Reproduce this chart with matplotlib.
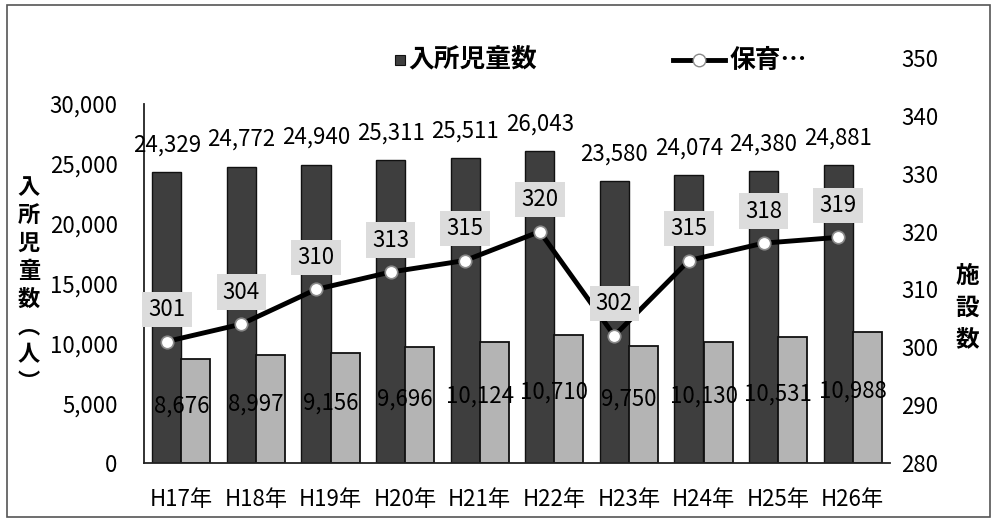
import matplotlib
matplotlib.use('Agg')
import matplotlib.pyplot as plt
from matplotlib.patches import Rectangle
from matplotlib.lines import Line2D
import numpy as np

# ---- data ----
years = ['H17年', 'H18年', 'H19年', 'H20年', 'H21年', 'H22年', 'H23年', 'H24年', 'H25年', 'H26年']
children = [24329, 24772, 24940, 25311, 25511, 26043, 23580, 24074, 24380, 24881]
second_series = [8676, 8997, 9156, 9696, 10124, 10710, 9750, 10130, 10531, 10988]
facilities = [301, 304, 310, 313, 315, 320, 302, 315, 318, 319]
left_ticks = [0, 5000, 10000, 15000, 20000, 25000, 30000]
right_ticks = [280, 290, 300, 310, 320, 330, 340, 350]
legend_bar = '入所児童数'
legend_line = '保育…'
left_label = '入所児童数︵人︶'
right_label = '施設数'

plt.rcParams['font.family'] = ['Noto Sans CJK JP', 'DejaVu Sans']

W, H = 994, 528
fig = plt.figure(figsize=(W / 100, H / 100), dpi=100)
fig.patch.set_facecolor('white')

ax = fig.add_axes([144 / W, (H - 463) / H, 746 / W, 405 / H])
x = np.arange(len(years))
w = 0.39
dark = '#3e3e3e'
light = '#b4b4b4'
fs = 16
ax.bar(x - w / 2, children, w, color=dark, edgecolor='#111111', linewidth=1.0, zorder=2)
ax.bar(x + w / 2, second_series, w, color=light, edgecolor='#111111', linewidth=1.3, zorder=2)
ax.set_xlim(-0.5, len(years) - 0.5)
ax.set_ylim(0, 30000 * 405 / 359)
ax.set_yticks(left_ticks)
ax.set_yticklabels([f'{v:,}' for v in left_ticks])
ax.set_xticks(x)
ax.set_xticklabels(years)
ax.tick_params(axis='y', length=0, pad=19, labelsize=fs)
ax.tick_params(axis='x', length=0, pad=18, labelsize=fs)
for s in ['top', 'right']:
    ax.spines[s].set_visible(False)
ax.spines['left'].set_bounds(0, 30000)
ax.spines['left'].set_linewidth(1.3)
ax.spines['left'].set_color('#222222')
ax.spines['bottom'].set_linewidth(1.3)
ax.spines['bottom'].set_color('#222222')

for xi, v in zip(x, children):
    ax.annotate(f'{v:,}', (xi - w / 2, v), xytext=(0, 27), textcoords='offset pixels',
                ha='center', va='center', fontsize=fs, zorder=5)
for xi, v in zip(x, second_series):
    ax.annotate(f'{v:,}', (xi, v * 0.55), ha='center', va='center', fontsize=fs, zorder=5)

ax2 = ax.twinx()
ax2.set_ylim(280, 350)
ax2.set_yticks(right_ticks)
ax2.tick_params(axis='y', length=0, pad=8, labelsize=fs)
for s in ax2.spines.values():
    s.set_visible(False)
ax2.plot(x - w / 2, facilities, color='black', linewidth=3.5, marker='o', markersize=9,
         markerfacecolor='white', markeredgecolor='#8a8a8a', markeredgewidth=1.2, zorder=2)
for xi, v in zip(x, facilities):
    ax2.annotate(f'{v}', (xi - w / 2, v), xytext=(0, 32), textcoords='offset pixels',
                 ha='center', va='center', fontsize=fs, zorder=6,
                 bbox=dict(boxstyle='square,pad=0.28', fc='#dcdcdc', ec='none'))

# legend (manual, at top)
fig.add_artist(Rectangle((395 / W, 1 - 65 / H), 10 / W, 10 / H, facecolor=dark,
                         edgecolor='#111111', linewidth=0.8, transform=fig.transFigure))
fig.text(408 / W, 1 - 60 / H, legend_bar, ha='left', va='center', fontsize=18.5, weight='bold')
fig.add_artist(Line2D([673 / W, 725 / W], [1 - 60 / H, 1 - 60 / H], color='black',
                      linewidth=3.5, transform=fig.transFigure))
fig.add_artist(Line2D([699 / W], [1 - 60 / H], marker='o', markersize=9, markerfacecolor='white',
                      markeredgecolor='#8a8a8a', linestyle='none', transform=fig.transFigure))
fig.text(730 / W, 1 - 60 / H, legend_line, ha='left', va='center', fontsize=18.5, weight='bold')

# axis titles (vertical stacked)
fig.text(29 / W, 1 - 285 / H, '\n'.join(left_label), ha='center', va='center', fontsize=16,
         weight='bold', linespacing=1.27)
fig.text(967 / W, 1 - 308 / H, '\n'.join(right_label), ha='center', va='center', fontsize=17,
         weight='bold', linespacing=1.4)

# outer frame
fig.add_artist(Rectangle((7 / W, 1 - 517 / H), 983 / W, 512 / H, fill=False,
                         edgecolor='#555555', linewidth=1.2, transform=fig.transFigure))

fig.savefig('out.png', dpi=100)
